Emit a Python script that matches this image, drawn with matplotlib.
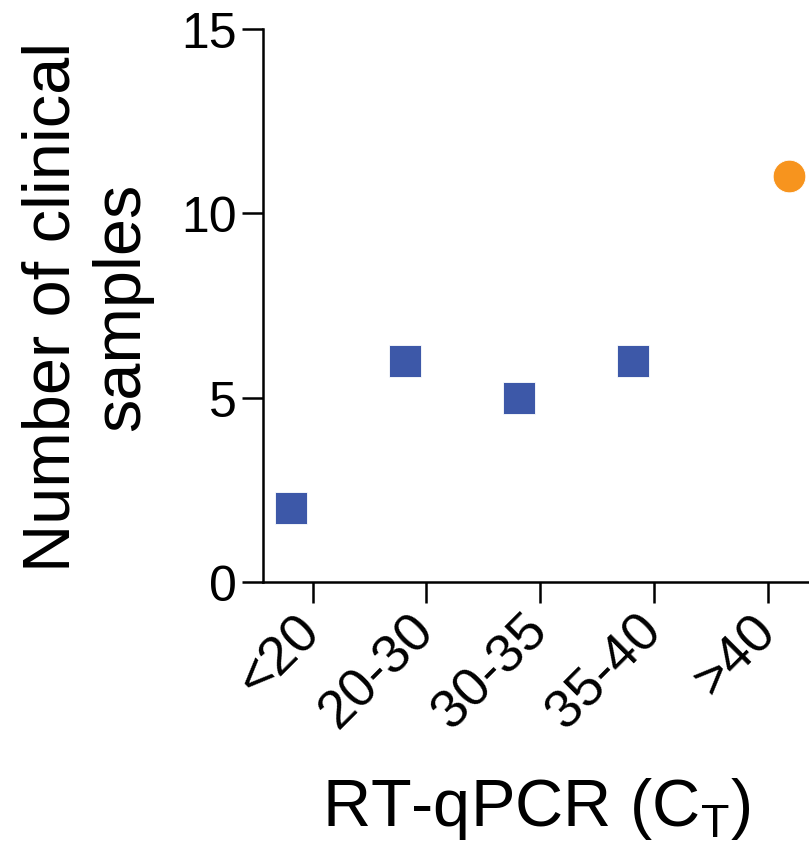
import numpy as np
import matplotlib
matplotlib.use("Agg")
import matplotlib.pyplot as plt

plt.rcParams['font.family'] = ['Liberation Sans', 'DejaVu Sans']
plt.rcParams['mathtext.fontset'] = 'custom'
plt.rcParams['mathtext.rm'] = 'Liberation Sans'

categories = ["<20", "20-30", "30-35", "35-40", ">40"]
positive_counts = [2, 6, 5, 6, np.nan]      # blue squares
negative_counts = [np.nan, np.nan, np.nan, np.nan, 11]  # orange circle
y_ticks = [0, 5, 10, 15]

blue = "#3D58A8"
orange = "#F7941E"
dodge = 0.185

fig = plt.figure(figsize=(8.09, 8.54), dpi=100)
ax = fig.add_axes([0.325, 0.3173, 0.675, 0.6476])

x = np.arange(len(categories))
ax.plot(x - dodge, positive_counts, linestyle='none', marker='s', ms=23.5,
        color=blue, mec='white', mew=0.6, clip_on=False, zorder=3)
ax.plot(x + dodge, negative_counts, linestyle='none', marker='o', ms=23.5,
        color=orange, mec='white', mew=0.6, clip_on=False, zorder=3)

ax.set_xlim(-0.436, 4.364)
ax.set_ylim(0, 15)
ax.set_yticks(y_ticks)
ax.set_yticklabels([str(v) for v in y_ticks], fontsize=36)
ax.set_xticks(x)
ax.set_xticklabels(categories, fontsize=39, rotation=45, ha='right',
                   va='center', rotation_mode='anchor')

for s in ['top', 'right']:
    ax.spines[s].set_visible(False)
for s in ['left', 'bottom']:
    ax.spines[s].set_linewidth(1.8)
ax.tick_params(axis='both', width=1.8, length=15, color='black')
ax.tick_params(axis='y', pad=4)
ax.tick_params(axis='x', pad=14)

ax.set_ylabel("Number of clinical\nsamples", fontsize=48, labelpad=20,
              linespacing=1.15)
ax.set_xlabel(r"RT-qPCR (C$_\mathregular{T}$)", fontsize=48, labelpad=27)

fig.savefig("out.png", dpi=100)
